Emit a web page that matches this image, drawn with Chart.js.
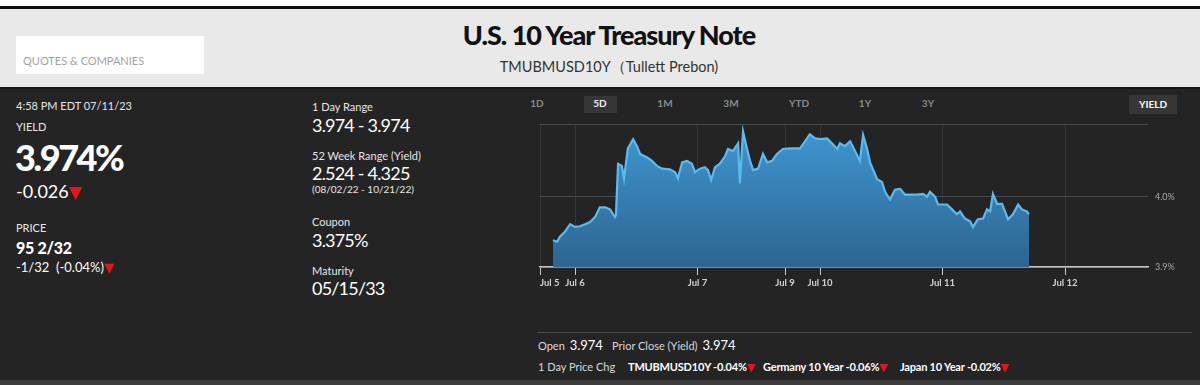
<!DOCTYPE html>
<html>
<head>
<meta charset="utf-8">
<script src="https://cdn.jsdelivr.net/npm/chart.js@4"></script>
<style>
body { margin:0; width:1200px; height:385px; background:#242424; font-family: Lato, 'Open Sans', sans-serif; color:#f2f2f2; position:relative; overflow:hidden; }
.t { position:absolute; white-space:nowrap; line-height:1; }
#topbar { position:absolute; left:0; top:0; width:1200px; height:6px; background:#fff; }
#blackline { position:absolute; left:0; top:6px; width:1200px; height:3px; background:#0c0c0c; }
#header { position:absolute; left:0; top:9px; width:1200px; height:78px; background:#e9e9e9; border-bottom:2px solid #151515; }
#search { position:absolute; left:16px; top:27px; width:188px; height:38px; background:#fff; }
.lbl { font-size:11px; color:#e6e6e6; }
.val { font-size:18px; color:#fff; letter-spacing:-0.8px; }
.down { color:#e8141b; font-family:'DejaVu Sans', sans-serif; }
.tab { font-size:10px; font-weight:bold; color:#8a8a8a; transform:translateX(-50%); }
.box { position:absolute; background:#363636; }
#chartWrap { position:absolute; left:520px; top:112px; width:680px; height:185px; }
#sep { position:absolute; left:537px; top:332px; width:655px; height:1px; background:#4a4a4a; }
#bottom { position:absolute; left:0; top:380px; width:1200px; height:5px; background:#3c3c3c; }
.chg { font-size:11px; color:#fff; font-weight:bold; letter-spacing:-0.2px; }
</style>
</head>
<body>
<div id="topbar"></div>
<div id="blackline"></div>
<div id="header">
  <div id="search"><span class="t" style="left:7px; top:19px; font-size:11px; color:#a3a3a3;">QUOTES &amp; COMPANIES</span></div>
  <span class="t" style="left:609px; top:12px; transform:translateX(-50%); font-size:27px; font-weight:900; letter-spacing:-1px; color:#111;">U.S. 10 Year Treasury Note</span>
  <span class="t" style="left:609px; top:51px; transform:translateX(-50%); font-size:14.5px; color:#333;">TMUBMUSD10Y（Tullett Prebon)</span>
</div>

<!-- left quote panel -->
<span class="t lbl" style="left:16px; top:100px;">4:58 PM EDT 07/11/23</span>
<span class="t lbl" style="left:16px; top:121px;">YIELD</span>
<span class="t" style="left:15px; top:139px; font-size:36px; font-weight:900; letter-spacing:-2.4px; color:#fff;">3.974%</span>
<span class="t" style="left:16px; top:182px; font-size:18px; color:#fff;">-0.026<span class="down" style="font-size:17px;">▼</span></span>
<span class="t lbl" style="left:16px; top:222px;">PRICE</span>
<span class="t" style="left:16px; top:240px; font-size:16px; font-weight:900; letter-spacing:-0.3px; color:#fff;">95 2/32</span>
<span class="t" style="left:16px; top:261px; font-size:13px; color:#fff;">-1/32 &nbsp;(-0.04%)<span class="down" style="font-size:13px;">▼</span></span>

<!-- middle panel -->
<span class="t lbl" style="left:312px; top:101px;">1 Day Range</span>
<span class="t val" style="left:312px; top:116px;">3.974 - 3.974</span>
<span class="t lbl" style="left:312px; top:150px;">52 Week Range (Yield)</span>
<span class="t val" style="left:312px; top:164px;">2.524 - 4.325</span>
<span class="t" style="left:312px; top:184px; font-size:10px; color:#e6e6e6;">(08/02/22 - 10/21/22)</span>
<span class="t lbl" style="left:312px; top:216px;">Coupon</span>
<span class="t val" style="left:312px; top:231px;">3.375%</span>
<span class="t lbl" style="left:312px; top:265px;">Maturity</span>
<span class="t val" style="left:312px; top:279px;">05/15/33</span>

<!-- range tabs -->
<div class="box" style="left:584px; top:96px; width:33px; height:17px;"></div>
<div class="box" style="left:1129px; top:95px; width:48px; height:19px;"></div>
<span class="t tab" style="left:537px; top:98px;">1D</span>
<span class="t tab" style="left:600px; top:98px; color:#f0f0f0;">5D</span>
<span class="t tab" style="left:665px; top:98px;">1M</span>
<span class="t tab" style="left:731px; top:98px;">3M</span>
<span class="t tab" style="left:799px; top:98px;">YTD</span>
<span class="t tab" style="left:865px; top:98px;">1Y</span>
<span class="t tab" style="left:928px; top:98px;">3Y</span>
<span class="t tab" style="left:1153px; top:99px; color:#fff;">YIELD</span>

<div id="chartWrap"><canvas id="yieldChart"></canvas></div>

<div id="sep"></div>
<span class="t" style="left:538px; top:339px; font-size:11px; color:#d8d8d8;">Open <b style="font-size:13px; color:#fff; font-weight:normal; margin-left:2px;">3.974</b></span>
<span class="t" style="left:612px; top:339px; font-size:11px; color:#d8d8d8;">Prior Close (Yield) <b style="font-size:13px; color:#fff; font-weight:normal; margin-left:2px;">3.974</b></span>
<span class="t" style="left:538px; top:361px; font-size:11px; color:#d8d8d8;">1 Day Price Chg</span>
<span class="t chg" style="left:628px; top:361px;">TMUBMUSD10Y -0.04%<span class="down" style="font-size:11px;">▼</span></span>
<span class="t chg" style="left:763px; top:361px;">Germany 10 Year -0.06%<span class="down" style="font-size:11px;">▼</span></span>
<span class="t chg" style="left:900px; top:361px;">Japan 10 Year -0.02%<span class="down" style="font-size:11px;">▼</span></span>
<div id="bottom"></div>

<script>
// session position: 1 unit ~ one slot on the 5D time axis (Jul 5 = 0)
const sessionPos = [0.37, 0.49, 0.57, 0.71, 0.86, 1.00, 1.14, 1.29, 1.43, 1.57, 1.71, 1.86, 2.00, 2.14, 2.17, 2.23, 2.34, 2.40, 2.51, 2.66,
  2.77, 2.86, 3.06, 3.20, 3.34, 3.49, 3.71, 3.86, 3.94, 4.06, 4.20, 4.34, 4.43, 4.57, 4.71, 4.80, 4.89, 5.00, 5.14, 5.29,
  5.37, 5.51, 5.66, 5.71, 5.80, 5.91, 6.00, 6.09, 6.23, 6.37, 6.49, 6.63, 6.77, 6.94, 7.14, 7.43, 7.57, 7.71, 7.86, 8.00,
  8.20, 8.34, 8.49, 8.57, 8.71, 8.86, 9.00, 9.14, 9.23, 9.34, 9.43, 9.63, 9.77, 9.86, 10.00, 10.14, 10.29, 10.43, 10.77, 10.94,
  11.06, 11.14, 11.29, 11.37, 11.63, 11.77, 11.91, 12.00, 12.14, 12.29, 12.37, 12.51, 12.66, 12.77, 12.86, 12.94, 13.06, 13.20, 13.37, 13.51,
  13.66, 13.77, 13.91, 13.97];
const yieldValues = [3.938, 3.936, 3.943, 3.950, 3.961, 3.957, 3.958, 3.961, 3.964, 3.971, 3.985, 3.985, 3.982, 3.971, 3.974, 4.047, 4.044, 4.026, 4.069, 4.082,
  4.072, 4.061, 4.056, 4.051, 4.044, 4.040, 4.039, 4.035, 4.026, 4.049, 4.051, 4.047, 4.035, 4.040, 4.042, 4.038, 4.024, 4.042, 4.047, 4.058,
  4.068, 4.065, 4.076, 4.019, 4.093, 4.069, 4.051, 4.038, 4.040, 4.061, 4.049, 4.051, 4.061, 4.068, 4.069, 4.069, 4.079, 4.089, 4.083, 4.082,
  4.083, 4.076, 4.068, 4.076, 4.072, 4.079, 4.065, 4.051, 4.088, 4.069, 4.049, 4.025, 4.021, 4.007, 3.996, 4.010, 4.011, 4.003, 4.003, 4.004,
  4.000, 4.007, 4.000, 3.989, 3.989, 3.982, 3.975, 3.979, 3.969, 3.965, 3.957, 3.968, 3.969, 3.982, 3.979, 4.004, 3.990, 3.990, 3.968, 3.975,
  3.989, 3.982, 3.979, 3.975];
const xEnd = 17.37;
const dayTickPos = [0, 1, 4.5, 7, 8, 11.5, 15, xEnd];
const dayTickLabels = ['Jul 5', 'Jul 6', 'Jul 7', 'Jul 9', 'Jul 10', 'Jul 11', 'Jul 12', ''];
const yieldTicks = [3.9, 4.0, 4.103];
const yieldTickLabels = ['3.9%', '4.0%', ''];

Chart.defaults.font.family = 'Lato, sans-serif';

const points = sessionPos.map((x, i) => ({ x: x, y: yieldValues[i] }));

new Chart(document.getElementById('yieldChart'), {
  type: 'line',
  data: {
    datasets: [{
      data: points,
      borderColor: '#5dbaf0',
      borderWidth: 2.2,
      pointRadius: 0,
      tension: 0,
      fill: 'start',
      backgroundColor: function(ctx) {
        const area = ctx.chart.chartArea;
        if (!area) return 'rgba(59,140,200,0.9)';
        const g = ctx.chart.ctx.createLinearGradient(0, area.top, 0, area.bottom);
        g.addColorStop(0, '#3f98d3');
        g.addColorStop(1, '#2d6590');
        return g;
      }
    }]
  },
  options: {
    responsive: true,
    maintainAspectRatio: false,
    animation: false,
    layout: { padding: { left: 20, top: 9, right: 0, bottom: 0 } },
    plugins: { legend: { display: false }, tooltip: { enabled: false } },
    scales: {
      x: {
        type: 'linear',
        min: 0,
        max: xEnd,
        afterBuildTicks: scale => { scale.ticks = dayTickPos.map(v => ({ value: v })); },
        afterFit: scale => { scale.height = 30; },
        ticks: {
          autoSkip: false,
          maxRotation: 0,
          align: 'inner',
          padding: 2,
          color: '#d2d2d2',
          font: { size: 9.5, weight: 'bold' },
          callback: (v) => dayTickLabels[dayTickPos.indexOf(v)]
        },
        grid: {
          color: c => (c.tick && c.tick.value === xEnd) ? 'rgba(0,0,0,0)' : '#363636',
          tickColor: c => (c.tick && c.tick.value === xEnd) ? 'rgba(0,0,0,0)' : '#c8c8c8',
          tickLength: 8
        },
        border: { color: '#c8c8c8', width: 1.5 }
      },
      y: {
        position: 'right',
        min: 3.9,
        max: 4.103,
        afterBuildTicks: scale => { scale.ticks = yieldTicks.map(v => ({ value: v })); },
        afterFit: scale => { scale.width = 52; },
        ticks: {
          padding: 7,
          color: '#a8a8a8',
          font: { size: 9 },
          callback: (v) => yieldTickLabels[yieldTicks.indexOf(v)]
        },
        grid: { color: '#4a4a4a', drawTicks: false },
        border: { display: false }
      }
    }
  }
});
</script>
</body>
</html>
